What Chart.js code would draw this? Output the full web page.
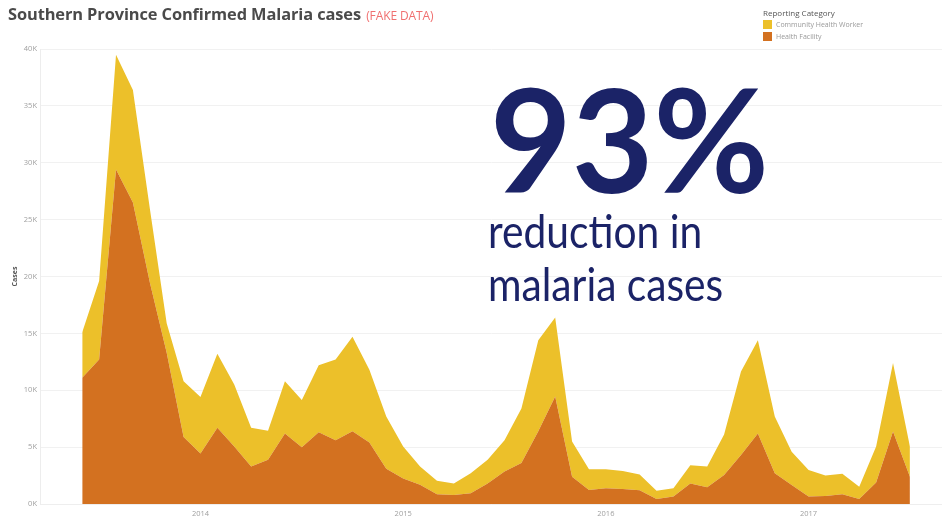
<!DOCTYPE html>
<html>
<head>
<meta charset="utf-8">
<script src="https://cdn.jsdelivr.net/npm/chart.js@4/dist/chart.umd.min.js"></script>
<style>
  body { margin: 0; background: #fff; }
  #wrap { position: relative; width: 942px; height: 519px; overflow: hidden; font-family: "Open Sans", sans-serif; }
  #chart { position: absolute; left: 0; top: 0; }
  .title { position: absolute; left: 8px; top: 2px; font-family: "Open Sans", sans-serif; font-weight: 700; font-size: 16.4px; color: #4a4a4a; white-space: nowrap; letter-spacing: -0.1px; }
  .title span { font-weight: 400; font-size: 12px; color: #f07070; margin-left: 1px; }
  .legend { position: absolute; left: 763px; top: 7px; font-size: 7px; color: #999; line-height: 12.5px; }
  .legend .head { color: #555; font-size: 8px; margin-bottom: -1px; }
  .legend .sw { display: inline-block; width: 9px; height: 9px; vertical-align: -2px; margin-right: 4px; }
  .big { position: absolute; left: 490px; top: 66px; font-family: Lato, sans-serif; font-weight: 700; font-size: 143px; line-height: 143px; color: #1b2367; white-space: nowrap; transform: scaleX(0.985); transform-origin: left top; }
  .sub { position: absolute; left: 488px; font-family: Lato, sans-serif; font-size: 46px; line-height: 46px; color: #1b2367; white-space: nowrap; transform: scaleX(0.885); transform-origin: left top; }
</style>
</head>
<body>
<div id="wrap">
  <canvas id="chart" width="942" height="519"></canvas>
  <div class="title">Southern Province Confirmed Malaria cases <span>(FAKE DATA)</span></div>
  <div class="legend" id="legend"></div>
  <div class="big">93%</div>
  <div class="sub" style="top:208px">reduction in</div>
  <div class="sub" style="top:261px">malaria cases</div>
</div>
<script>
// monthly data, Jun 2013 - Jul 2017
const months = [
  'Jun 2013','Jul 2013','Aug 2013','Sep 2013','Oct 2013','Nov 2013','Dec 2013',
  'Jan 2014','Feb 2014','Mar 2014','Apr 2014','May 2014','Jun 2014','Jul 2014','Aug 2014','Sep 2014','Oct 2014','Nov 2014','Dec 2014',
  'Jan 2015','Feb 2015','Mar 2015','Apr 2015','May 2015','Jun 2015','Jul 2015','Aug 2015','Sep 2015','Oct 2015','Nov 2015','Dec 2015',
  'Jan 2016','Feb 2016','Mar 2016','Apr 2016','May 2016','Jun 2016','Jul 2016','Aug 2016','Sep 2016','Oct 2016','Nov 2016','Dec 2016',
  'Jan 2017','Feb 2017','Mar 2017','Apr 2017','May 2017','Jun 2017','Jul 2017'
];

const healthFacility = [
  11100, 12700, 29400, 26500, 19500, 13300, 5900,
  4450, 6700, 5050, 3300, 3900, 6200, 5000, 6300, 5600, 6400, 5400, 3100,
  2250, 1700, 850, 800, 950, 1800, 2850, 3600, 6400, 9450, 2400, 1230,
  1380, 1320, 1200, 440, 650, 1800, 1470, 2550, 4300, 6200, 2700, 1670,
  650, 700, 850, 440, 1880, 6370, 2400
];

const communityHealthWorker = [
  4000, 6900, 10100, 9900, 6500, 2600, 4900,
  4950, 6500, 5450, 3400, 2550, 4600, 4150, 5900, 7100, 8300, 6400, 4600,
  2800, 1600, 1200, 1000, 1750, 2100, 2750, 4800, 8000, 6950, 3100, 1820,
  1670, 1580, 1400, 730, 730, 1600, 1830, 3550, 7350, 8200, 5000, 2930,
  2350, 1800, 1800, 1080, 3170, 6030, 2650
];

const yTicks = [0, 5000, 10000, 15000, 20000, 25000, 30000, 35000, 40000];

const colors = {
  'Health Facility': '#d37120',
  'Community Health Worker': '#ecc02a'
};

// year labels sit on January of each year
const yearIdx = months.map((m, i) => m.startsWith('Jan') ? i : -1).filter(i => i >= 0);

// legend
const legendEl = document.getElementById('legend');
legendEl.innerHTML = '<div class="head">Reporting Category</div>' +
  ['Community Health Worker', 'Health Facility'].map(name =>
    '<div><span class="sw" style="background:' + colors[name] + '"></span>' + name + '</div>'
  ).join('');

const toPts = arr => arr.map((v, i) => ({ x: i, y: v }));

const ctx = document.getElementById('chart');
new Chart(ctx, {
  type: 'line',
  data: {
    datasets: [{
      label: 'Health Facility',
      data: toPts(healthFacility),
      backgroundColor: colors['Health Facility'],
      borderWidth: 0,
      pointRadius: 0,
      fill: 'origin',
      tension: 0
    }, {
      label: 'Community Health Worker',
      data: toPts(communityHealthWorker),
      backgroundColor: colors['Community Health Worker'],
      borderWidth: 0,
      pointRadius: 0,
      fill: '-1',
      tension: 0
    }]
  },
  options: {
    responsive: false,
    animation: false,
    devicePixelRatio: 1,
    layout: { padding: { top: 49, left: 0, right: 0, bottom: 0 } },
    plugins: { legend: { display: false }, tooltip: { enabled: false } },
    scales: {
      x: {
        type: 'linear',
        min: -2.5,
        max: 50.9,
        grid: { display: false, drawTicks: false },
        border: { color: '#eeeeee' },
        afterBuildTicks: axis => { axis.ticks = yearIdx.map(v => ({ value: v })); },
        afterFit: axis => { axis.height = 15; },
        ticks: {
          autoSkip: false,
          maxRotation: 0,
          padding: 5,
          color: '#a0a0a0',
          font: { family: 'Open Sans', size: 7.5 },
          callback: v => months[v] ? months[v].slice(-4) : ''
        }
      },
      y: {
        stacked: true,
        min: 0,
        max: 40000,
        grid: { color: '#f1f1f1', drawTicks: false },
        border: { color: '#ededed' },
        afterBuildTicks: axis => { axis.ticks = yTicks.map(v => ({ value: v })); },
        afterFit: axis => { axis.width = 40; },
        title: {
          display: true,
          text: 'Cases',
          color: '#555',
          font: { family: 'Open Sans', size: 7, weight: 'bold' },
          padding: { top: 11, bottom: 0 }
        },
        ticks: {
          padding: 3,
          color: '#a0a0a0',
          font: { family: 'Open Sans', size: 7.5 },
          callback: v => (v / 1000) + 'K'
        }
      }
    }
  }
});
</script>
</body>
</html>
